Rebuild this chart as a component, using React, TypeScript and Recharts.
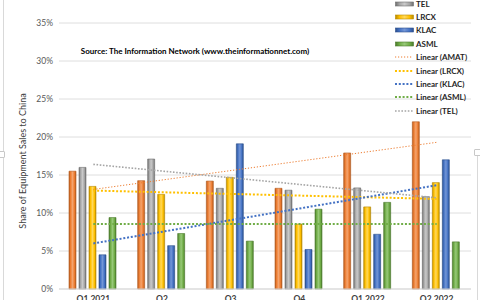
import { Bar, CartesianGrid, ComposedChart, Line, XAxis, YAxis } from "recharts"

const quarters = ["Q1 2021", "Q2", "Q3", "Q4", "Q1 2022", "Q2 2022"]
const amat = [15.5, 14.25, 14.2, 13.25, 17.9, 22.0]
const tel = [16.0, 17.1, 13.25, 13.0, 13.3, 12.15]
const lrcx = [13.5, 12.45, 14.7, 8.55, 10.8, 14.0]
const klac = [4.5, 5.7, 19.1, 5.2, 7.2, 17.0]
const asml = [9.4, 7.3, 6.3, 10.5, 11.4, 6.2]

// linear trendlines, start (Q1 2021) and end (Q2 2022) values
const trendAmat = [13.1, 19.3]
const trendLrcx = [12.95, 11.85]
const trendKlac = [6.0, 13.65]
const trendAsml = [8.55, 8.55]
const trendTel = [16.4, 12.0]

const yTicks = [0, 5, 10, 15, 20, 25, 30, 35]

const last = quarters.length - 1
const ends = (t: number[], i: number) => (i === 0 ? t[0] : i === last ? t[1] : null)

const data = quarters.map((q, i) => ({
  q,
  AMAT: amat[i],
  TEL: tel[i],
  LRCX: lrcx[i],
  KLAC: klac[i],
  ASML: asml[i],
  tAMAT: ends(trendAmat, i),
  tLRCX: ends(trendLrcx, i),
  tKLAC: ends(trendKlac, i),
  tASML: ends(trendAsml, i),
  tTEL: ends(trendTel, i),
}))

const bars = [
  { key: "AMAT", color: "#ED7D31", dark: "#B35A1F", light: "#F4A46E" },
  { key: "TEL", color: "#A5A5A5", dark: "#6E6E6E", light: "#C9C9C9" },
  { key: "LRCX", color: "#FFC000", dark: "#B88A00", light: "#FFD85C" },
  { key: "KLAC", color: "#4472C4", dark: "#2C4F8C", light: "#7396D6" },
  { key: "ASML", color: "#70AD47", dark: "#4B7A2C", light: "#97C878" },
]

const trends = [
  { key: "tAMAT", name: "Linear (AMAT)", color: "#ED7D31", width: 1, dash: "1.2 1.8" },
  { key: "tLRCX", name: "Linear (LRCX)", color: "#FFC000", width: 2, dash: "2 1.8" },
  { key: "tKLAC", name: "Linear (KLAC)", color: "#4472C4", width: 2, dash: "2 1.8" },
  { key: "tASML", name: "Linear (ASML)", color: "#70AD47", width: 2, dash: "2 1.8" },
  { key: "tTEL", name: "Linear (TEL)", color: "#A5A5A5", width: 1.6, dash: "1.6 1.6" },
]

const font = "Lato, 'Liberation Sans', sans-serif"

function LegendBox() {
  const row = 13.4
  return (
    <div
      style={{
        position: "absolute",
        left: 395,
        top: -16.4,
        fontFamily: font,
        fontSize: 8,
        fontWeight: 700,
        color: "#262626",
        lineHeight: 1,
      }}
    >
      {bars.map((b) => (
        <div key={b.key} style={{ height: row, display: "flex", alignItems: "center" }}>
          <svg width={21} height={8}>
            <rect x={0.5} y={2} width={18} height={4} fill={`url(#g${b.key})`} stroke={b.dark} strokeWidth={0.6} />
          </svg>
          <span>{b.key}</span>
        </div>
      ))}
      {trends.map((t) => (
        <div key={t.key} style={{ height: row, display: "flex", alignItems: "center" }}>
          <svg width={21} height={8}>
            <line x1={0} y1={4} x2={18} y2={4} stroke={t.color} strokeWidth={t.width} strokeDasharray={t.dash} />
          </svg>
          <span>{t.name}</span>
        </div>
      ))}
    </div>
  )
}

export default function App() {
  return (
    <div
      style={{
        position: "absolute",
        left: 0,
        top: 0,
        width: 480,
        height: 300,
        overflow: "hidden",
        background: "#fff",
        fontFamily: font,
      }}
    >
      <ComposedChart
        width={480}
        height={320}
        data={data}
        margin={{ top: 23, right: 9, bottom: 1, left: 0 }}
        barCategoryGap={10}
        barGap={3}
      >
        <defs>
          {bars.map((b) => (
            <linearGradient key={b.key} id={`g${b.key}`} x1="0" y1="0" x2="1" y2="0">
              <stop offset="0%" stopColor={b.dark} />
              <stop offset="22%" stopColor={b.color} />
              <stop offset="50%" stopColor={b.light} />
              <stop offset="78%" stopColor={b.color} />
              <stop offset="100%" stopColor={b.dark} />
            </linearGradient>
          ))}
        </defs>
        <CartesianGrid vertical={false} stroke="#DEDEDE" />
        <XAxis
          dataKey="q"
          axisLine={{ stroke: "#D9D9D9" }}
          tickLine={false}
          tickSize={0}
          tickMargin={7}
          height={30}
          interval={0}
          tick={{ fill: "#404040", fontSize: 8.5, fontFamily: font, fontWeight: 700 }}
        />
        <YAxis
          domain={[0, 35]}
          ticks={yTicks}
          width={59}
          axisLine={false}
          tickLine={false}
          tickSize={0}
          tickMargin={6}
          tickFormatter={(v) => `${v}%`}
          tick={{ fill: "#595959", fontSize: 8.5, fontFamily: font }}
        />
        {bars.map((b) => (
          <Bar
            key={b.key}
            dataKey={b.key}
            fill={`url(#g${b.key})`}
            stroke={b.dark}
            strokeWidth={0.6}
            isAnimationActive={false}
          />
        ))}
        {trends.map((t) => (
          <Line
            key={t.key}
            dataKey={t.key}
            stroke={t.color}
            strokeWidth={t.width}
            strokeDasharray={t.dash}
            dot={false}
            activeDot={false}
            connectNulls
            type="linear"
            isAnimationActive={false}
          />
        ))}
      </ComposedChart>

      <LegendBox />
      <div
        style={{
          position: "absolute",
          left: 195,
          top: 46,
          transform: "translateX(-50%)",
          whiteSpace: "nowrap",
          fontSize: 8,
          fontWeight: 700,
          color: "#000",
        }}
      >
        Source: The Information Network (www.theinformationnet.com)
      </div>
      <div
        style={{
          position: "absolute",
          left: 22,
          top: 161,
          transform: "translate(-50%, -50%) rotate(-90deg)",
          whiteSpace: "nowrap",
          fontSize: 9,
          color: "#404040",
        }}
      >
        Share of Equipment Sales to China
      </div>
      <div style={{ position: "absolute", left: 3, top: 0, width: 1, height: 300, background: "#D9D9D9" }} />
      <div style={{ position: "absolute", left: 477, top: 151, width: 1, height: 149, background: "#D9D9D9" }} />
      <div
        style={{
          position: "absolute",
          left: -2,
          top: 151,
          width: 5,
          height: 5,
          border: "1px solid #C8C8C8",
          borderRadius: 1,
          background: "#fff",
        }}
      />
      <div
        style={{
          position: "absolute",
          left: 474,
          top: 149,
          width: 5,
          height: 5,
          border: "1px solid #C8C8C8",
          borderRadius: 1,
          background: "#fff",
        }}
      />
    </div>
  )
}
